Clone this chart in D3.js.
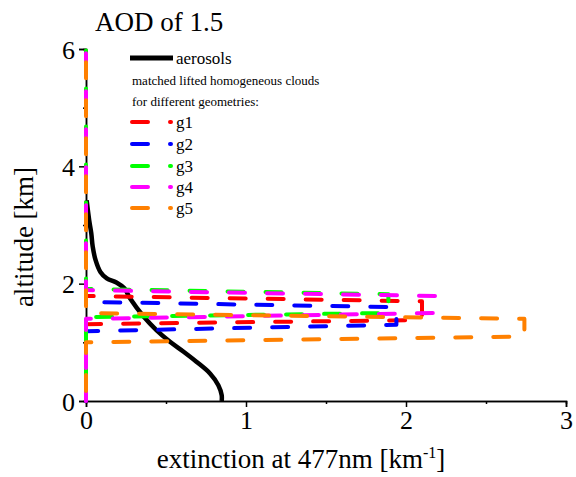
<!DOCTYPE html>
<html>
<head>
<meta charset="utf-8">
<script src="https://cdn.jsdelivr.net/npm/d3@7/dist/d3.min.js"></script>
<style>
  html, body { margin: 0; padding: 0; background: #fff; }
  svg { display: block; }
  text { font-family: "Liberation Serif", "Times New Roman", serif; fill: #000; }
</style>
</head>
<body>
<div id="chart"></div>
<script>
// ---- data (extinction [km^-1], altitude [km]) ----
const aerosolExt = [0.004, 0.02, 0.033, 0.042, 0.06, 0.09, 0.13, 0.19, 0.24, 0.275, 0.36, 0.44, 0.525, 0.61, 0.69, 0.775, 0.827, 0.848, 0.848];
const aerosolAlt = [3.42, 3.08, 2.86, 2.63, 2.40, 2.20, 2.09, 2.02, 1.92, 1.75, 1.44, 1.21, 1.01, 0.84, 0.67, 0.47, 0.27, 0.10, 0.0];

const cloudNames = ["g1", "g2", "g3", "g4", "g5"];
const cloudColors = ["#ff0000", "#0000ff", "#00ff00", "#ff00ff", "#ff8000"];
const g1 = [[0, 0], [0, 1.31], [2.10, 1.38], [2.10, 1.70], [0, 1.79], [0, 6]];
const g2 = [[0, 0], [0, 1.19], [1.94, 1.30], [1.94, 1.60], [0, 1.69], [0, 6]];
const g3 = [[0, 0], [0, 1.43], [1.89, 1.50], [1.89, 1.82], [0, 1.91], [0, 6]];
const g4 = [[0, 0], [0, 1.40], [2.19, 1.50], [2.19, 1.79], [0, 1.89], [0, 6]];
const g5 = [[0, 0], [0, 1.00], [2.74, 1.10], [2.74, 1.40], [0, 1.50], [0, 6]];
const clouds = [g1, g2, g3, g4, g5];

const xTicks = [0, 1, 2, 3];
const xMinor = [0.5, 1.5, 2.5];
const yTicks = [0, 2, 4, 6];
const yMinor = [1, 3, 5];

// ---- layout ----
const W = 576, H = 477;
const svg = d3.select("#chart").append("svg").attr("width", W).attr("height", H);

const x = d3.scaleLinear().domain([0, 3]).range([86, 566]);
const y = d3.scaleLinear().domain([0, 6]).range([401, 49]);

// axes
const gx = svg.append("g").attr("transform", `translate(0,${y(0)})`);
gx.call(d3.axisBottom(x).tickValues(xTicks).tickSize(6).tickPadding(6).tickFormat(d3.format("d")));
gx.append("g").call(d3.axisBottom(x).tickValues(xMinor).tickSize(3).tickFormat(""));
const gy = svg.append("g").attr("transform", `translate(${x(0)},0)`);
gy.call(d3.axisLeft(y).tickValues(yTicks).tickSize(7).tickPadding(4).tickFormat(d3.format("d")));
gy.append("g").call(d3.axisLeft(y).tickValues(yMinor).tickSize(3).tickFormat(""));

svg.selectAll(".domain").attr("stroke", "#000").attr("stroke-width", 1.5);
svg.selectAll(".tick line").attr("stroke", "#000").attr("stroke-width", 1.5);
gx.selectAll(".tick text").style("font-size", "26px").style("font-family", "Liberation Serif").attr("dy", "0.71em").attr("y", 10);
gy.selectAll(".tick text").style("font-size", "26px").style("font-family", "Liberation Serif").attr("dy", "0.35em");

// aerosol line
const aerosolPts = aerosolExt.map((e, i) => [e, aerosolAlt[i]]);
const smooth = d3.line().x(d => x(d[0])).y(d => y(d[1])).curve(d3.curveCatmullRom.alpha(0.5));
svg.append("path").datum(aerosolPts)
  .attr("d", smooth).attr("fill", "none").attr("stroke", "#000")
  .attr("stroke-width", 4.5).attr("stroke-linejoin", "round");

// cloud profiles
const lin = d3.line().x(d => x(d[0])).y(d => y(d[1]));
const offsets = [0, 10, 20, 5, 28];
clouds.forEach((c, i) => {
  svg.append("path").datum(c)
    .attr("d", lin).attr("fill", "none").attr("stroke", cloudColors[i])
    .attr("stroke-width", 4).attr("stroke-linecap", "round").attr("stroke-linejoin", "round")
    .attr("stroke-dasharray", "16,22").attr("stroke-dashoffset", offsets[i]);
});

// title
svg.append("text").attr("x", 95).attr("y", 31).style("font-size", "27px").text("AOD of 1.5");

// axis labels
svg.append("text").attr("x", 301).attr("y", 468).attr("text-anchor", "middle").style("font-size", "27px")
  .html('extinction at 477nm [km<tspan dy="-10" style="font-size:16px">-1</tspan><tspan dy="10">]</tspan>');
svg.append("text").attr("transform", "translate(33,237) rotate(-90)").attr("text-anchor", "middle")
  .style("font-size", "27px").text("altitude [km]");

// legend
const lg = svg.append("g");
lg.append("line").attr("x1", 130).attr("x2", 173).attr("y1", 58).attr("y2", 58)
  .attr("stroke", "#000").attr("stroke-width", 5);
lg.append("text").attr("x", 176).attr("y", 64).style("font-size", "17px").text("aerosols");
lg.append("text").attr("x", 132).attr("y", 85).style("font-size", "13px").text("matched lifted homogeneous clouds");
lg.append("text").attr("x", 132).attr("y", 106).style("font-size", "13px").text("for different geometries:");
const rowY = [122, 144, 166, 187, 208];
cloudNames.forEach((n, i) => {
  lg.append("line").attr("x1", 132).attr("x2", 171).attr("y1", rowY[i]).attr("y2", rowY[i])
    .attr("stroke", cloudColors[i]).attr("stroke-width", 4).attr("stroke-linecap", "round")
    .attr("stroke-dasharray", "16,22");
  lg.append("text").attr("x", 176).attr("y", rowY[i] + 6).style("font-size", "17px").text(n);
});
</script>
</body>
</html>
